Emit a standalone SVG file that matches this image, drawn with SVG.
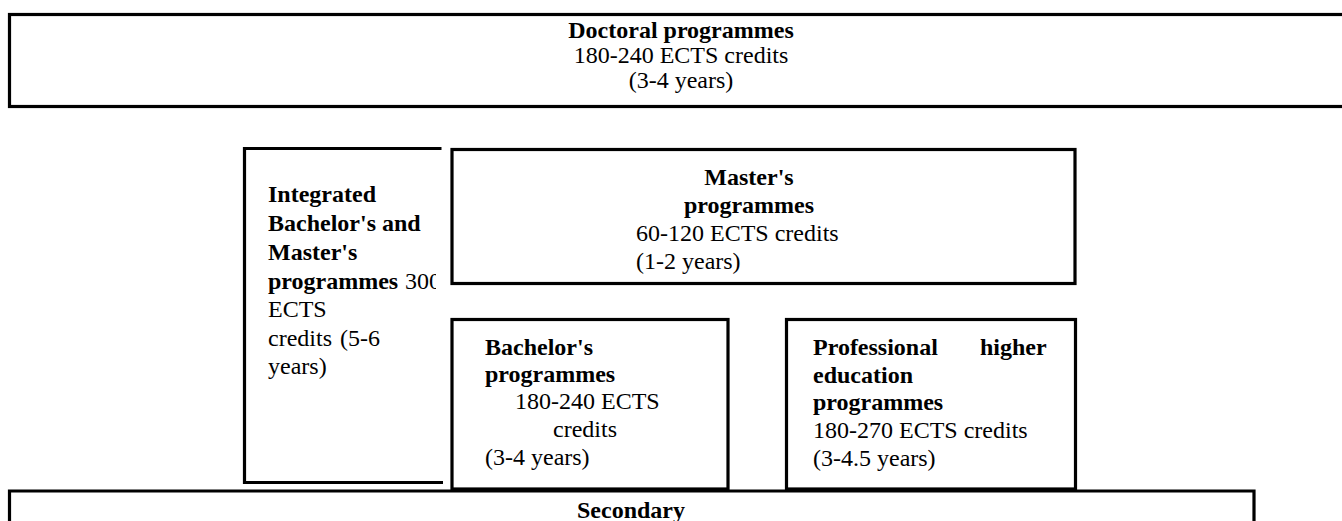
<svg xmlns="http://www.w3.org/2000/svg" width="1342" height="521" viewBox="0 0 1342 521">
<style>
  .box { fill: none; stroke: #000; stroke-width: 3.2; }
  text { font-family: "Liberation Serif", "Times New Roman", serif; font-size: 24px; fill: #000; }
  .b { font-weight: bold; }
  .c { text-anchor: middle; }
</style>
<defs>
  <clipPath id="intClip"><rect x="240" y="140" width="196" height="350"/></clipPath>
</defs>
<rect width="1342" height="521" fill="#fff"/>
<g id="doctoral">
  <rect class="box" x="9.5" y="14.5" width="1345" height="92"/>
  <text class="b c" x="681" y="38">Doctoral programmes</text>
  <text class="c" x="681" y="63">180-240 ECTS credits</text>
  <text class="c" x="681" y="88">(3-4 years)</text>
</g>
<g id="integrated">
  <path class="box" d="M441.5,148.5 H244.5 V482.5 H443"/>
  <g clip-path="url(#intClip)">
    <text class="b" x="268" y="202">Integrated</text>
    <text class="b" x="268" y="231">Bachelor's and</text>
    <text class="b" x="268" y="260">Master's</text>
    <text x="268" y="289"><tspan class="b">programmes</tspan><tspan x="405">300</tspan></text>
    <text x="268" y="317">ECTS</text>
    <text x="268" y="346">credits<tspan x="340">(5-6</tspan></text>
    <text x="268" y="374">years)</text>
  </g>
</g>
<g id="masters">
  <rect class="box" x="452" y="149.5" width="623" height="134"/>
  <text class="b c" x="749" y="185">Master's</text>
  <text class="b c" x="749" y="213">programmes</text>
  <text x="636" y="241">60-120 ECTS credits</text>
  <text x="636" y="269">(1-2 years)</text>
</g>
<g id="bachelors">
  <rect class="box" x="452" y="319.5" width="276" height="169.5"/>
  <text class="b" x="485" y="355">Bachelor's</text>
  <text class="b" x="485" y="382">programmes</text>
  <text x="515" y="409">180-240 ECTS</text>
  <text x="553" y="437">credits</text>
  <text x="485" y="465">(3-4 years)</text>
</g>
<g id="professional">
  <rect class="box" x="786.5" y="319.5" width="289" height="169.5"/>
  <text class="b" x="813" y="355">Professional<tspan x="980">higher</tspan></text>
  <text class="b" x="813" y="383">education</text>
  <text class="b" x="813" y="410">programmes</text>
  <text x="813" y="438">180-270 ECTS credits</text>
  <text x="813" y="466">(3-4.5 years)</text>
</g>
<g id="secondary">
  <path class="box" d="M9.5,523 V491 H1254 V523"/>
  <text class="b c" x="631" y="518">Secondary</text>
</g>
<g id="connectors"></g>
</svg>
